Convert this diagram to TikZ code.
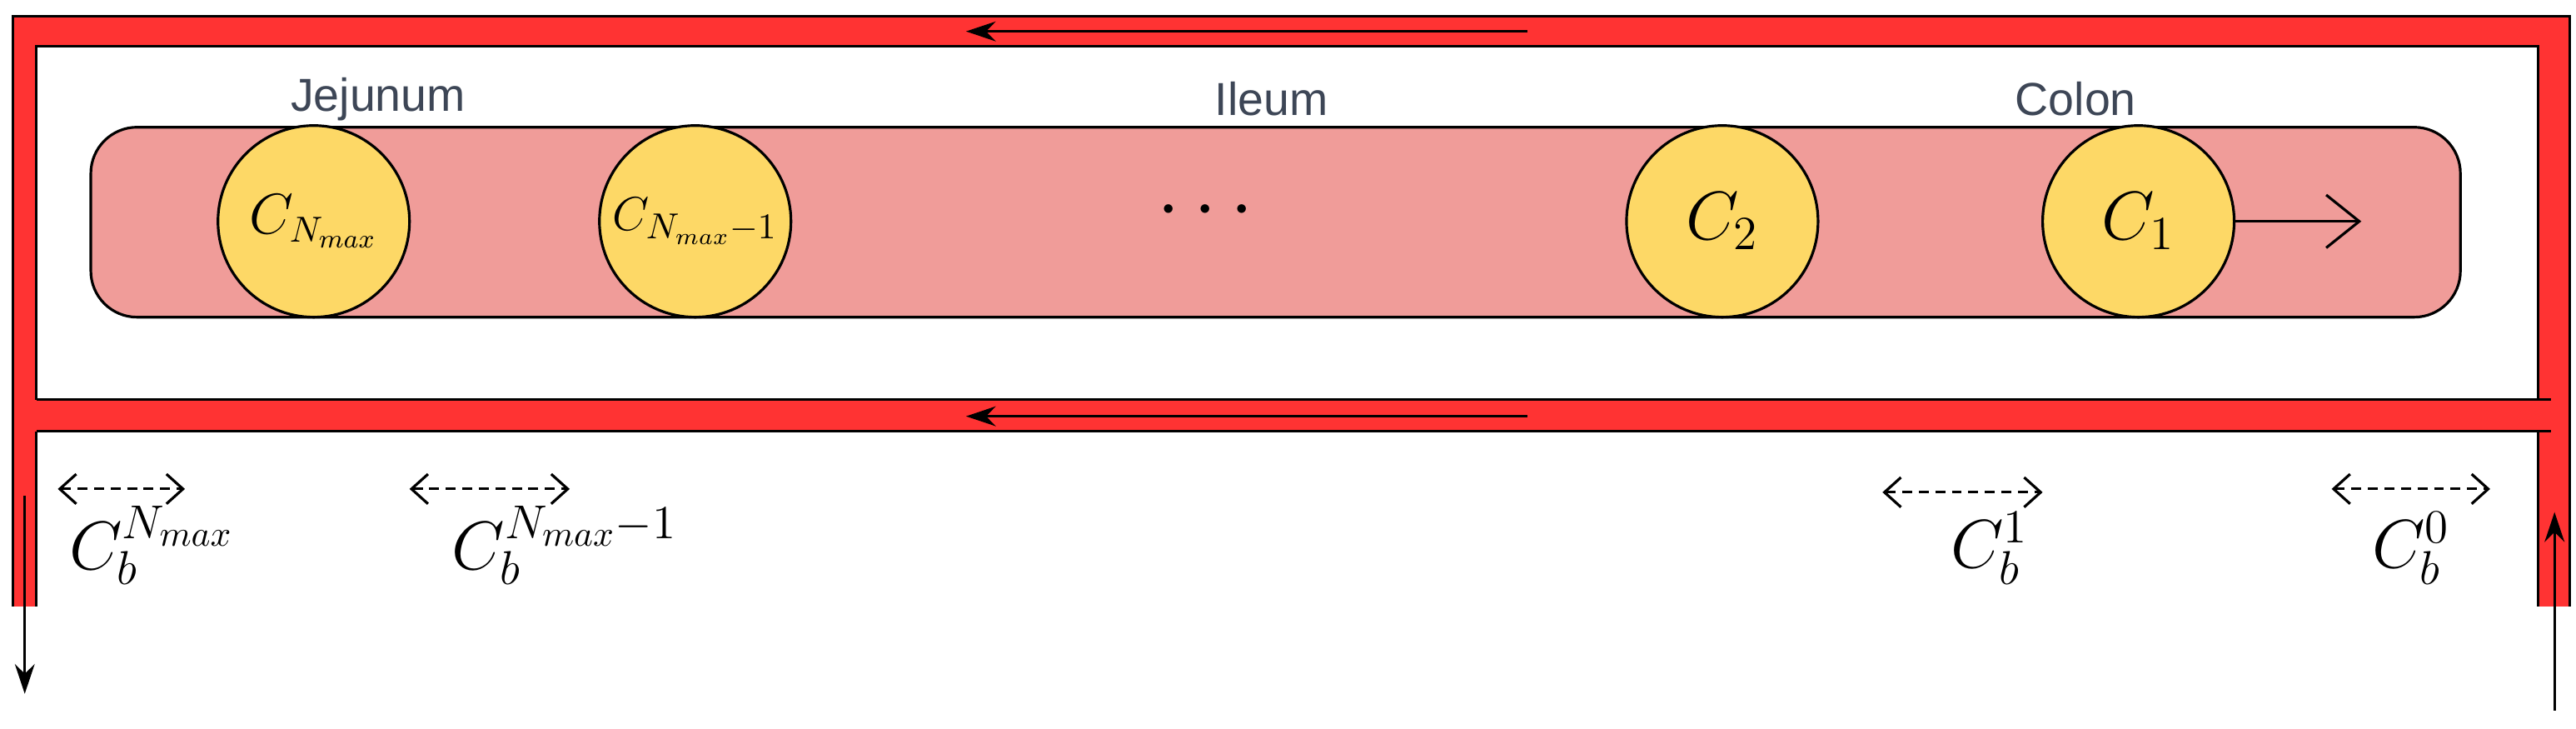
\documentclass[tikz,border=0pt]{standalone}
\usepackage{fontspec}
\newfontfamily\labelfont{Liberation Sans}
\usetikzlibrary{arrows.meta,positioning}
\definecolor{vesselred}{HTML}{FF3333}
\definecolor{gutpink}{HTML}{F09C99}
\definecolor{cellyellow}{HTML}{FDD866}
\definecolor{labelgray}{HTML}{3D4656}
\tikzset{
  compartment/.style={circle, draw, thick, fill=cellyellow, minimum size=58pt, inner sep=0pt, font=\fontsize{20}{24}\selectfont},
  region/.style={text=labelgray, font=\labelfont\fontsize{14}{16}\selectfont},
  exchange/.style={densely dashed, thick, {Straight Barb[length=5pt,width=9pt]}-{Straight Barb[length=5pt,width=9pt]}},
  flow/.style={thick, -{Stealth[length=9pt,width=6pt]}},
  blood/.style={font=\fontsize{22}{26}\selectfont}
}
\begin{document}
\begin{tikzpicture}[x=0.5pt,y=-0.5pt]
        \useasboundingbox (0,0) rectangle (1560,441);
        % vessels
        \fill[vesselred] (8,10) rectangle (1556,28);
        \fill[vesselred] (8,10) rectangle (22,367);
        \fill[vesselred] (1537,10) rectangle (1556,367);
        \fill[vesselred] (22,242) rectangle (1545,261);
        \draw[thick] (8,367) -- (8,10) -- (1556,10) -- (1556,367);
        \draw[thick] (22,242) -- (22,28) -- (1537,28) -- (1537,242);
        \draw[thick] (22,367) -- (22,261);
        \draw[thick] (1537,367) -- (1537,261);
        \draw[thick] (22,242) -- (1545,242);
        \draw[thick] (22,261) -- (1545,261);
        \coordinate (topin) at (925,19);
        \coordinate (topout) at (585,19);
        \coordinate (midin) at (925,252);
        \coordinate (midout) at (585,252);
        \draw[flow] (topin) -- (topout);
        \draw[flow] (midin) -- (midout);
        \coordinate (outtop) at (15,300);
        \coordinate (outbot) at (15,420);
        \coordinate (inbot) at (1547,430);
        \coordinate (intop) at (1547,310);
        \draw[flow] (outtop) -- (outbot);
        \draw[flow] (inbot) -- (intop);
        % gut
        \draw[thick, fill=gutpink, rounded corners=14pt] (55,77) rectangle (1490,192);
        \node[compartment, font=\fontsize{16}{20}\selectfont] (cN) at (190,134) {$C_{N_{max}}$};
        \node[compartment, font=\fontsize{15}{18}\selectfont] (cN1) at (421,134) {$C_{N_{max}-1}$};
        \node[font=\fontsize{24}{28}\selectfont] (dots) at (730,128) {$\cdots$};
        \node[compartment] (c2) at (1043,134) {$C_2$};
        \node[compartment] (c1) at (1295,134) {$C_1$};
        \coordinate (exit) at (1430,134);
        \draw[thick, -{Straight Barb[length=10pt,width=16pt]}] (c1) -- (exit);
        \node[region] (jej) at (229,60) {Jejunum};
        \node[region] (ile) at (770,60) {Ileum};
        \node[region] (col) at (1257,60) {Colon};
        % blood compartments
        \coordinate (bNl) at (35,296);   \coordinate (bNr) at (112,296);
        \coordinate (bN1l) at (248,296); \coordinate (bN1r) at (345,296);
        \coordinate (b1l) at (1140,298); \coordinate (b1r) at (1237,298);
        \coordinate (b0l) at (1412,296); \coordinate (b0r) at (1508,296);
        \draw[exchange] (bNl) -- (bNr);
        \draw[exchange] (bN1l) -- (bN1r);
        \draw[exchange] (b1l) -- (b1r);
        \draw[exchange] (b0l) -- (b0r);
        \node[blood] (cbN) at (92,330) {$C_b^{N_{max}}$};
        \node[blood] (cbN1) at (342,330) {$C_b^{N_{max}-1}$};
        \node[blood] (cb1) at (1205,332) {$C_b^{1}$};
        \node[blood] (cb0) at (1460,332) {$C_b^{0}$};
    \end{tikzpicture}
\end{document}
